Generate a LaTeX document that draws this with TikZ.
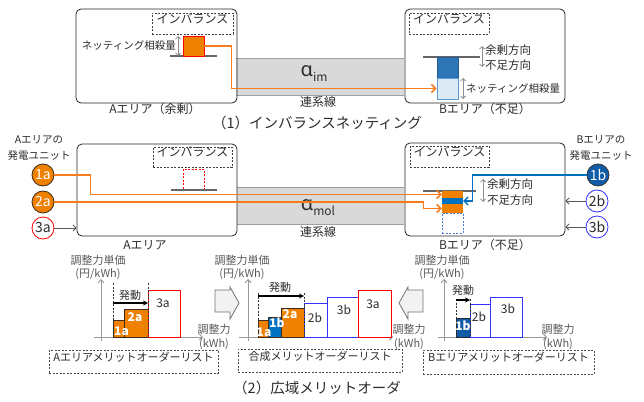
\documentclass[tikz,border=0pt]{standalone}
\usepackage{fontspec}
\setmainfont{Noto Sans CJK JP}
\newfontfamily\grk{Noto Sans}
\usetikzlibrary{arrows.meta,fit}
\newcommand{\fsz}[2]{\fontsize{#1pt}{#2pt}\selectfont}
\definecolor{org}{RGB}{240,128,0}
\definecolor{orgline}{RGB}{246,124,30}
\definecolor{dblue}{RGB}{46,117,182}
\definecolor{mblue}{RGB}{0,112,192}
\definecolor{lblue}{RGB}{221,235,247}
\definecolor{bblue}{RGB}{91,155,213}
\definecolor{nblue}{RGB}{16,92,166}
\definecolor{pblue}{RGB}{50,50,255}
\definecolor{bandc}{RGB}{217,217,217}
\definecolor{bandedge}{RGB}{160,160,160}
\definecolor{txt}{RGB}{45,45,45}
\definecolor{gtxt}{RGB}{90,90,90}
\definecolor{arrfill}{RGB}{242,242,242}
\definecolor{barb}{RGB}{60,45,30}
\begin{document}
\begin{tikzpicture}[x=1pt,y=-1pt,
  every node/.style={text=txt},
  area/.style={draw=black!85, line width=0.8pt, rounded corners=5pt, inner sep=0pt},
  imb/.style={draw=black!75, dash pattern=on 2pt off 1.5pt, line width=0.6pt, inner sep=0pt, font=\fsz{12}{14}},
  baseln/.style={draw=black!60, line width=1.2pt},
  bandst/.style={fill=bandc, draw=none, inner sep=0pt},
  bandln/.style={draw=bandedge, line width=0.8pt},
  oarr/.style={draw=orgline, line width=1.6pt, -{Straight Barb[length=4pt,width=8pt]}},
  barr/.style={draw=mblue, line width=1.4pt, -{Straight Barb[length=4pt,width=8pt]}},
  garr/.style={draw=black!65, line width=0.9pt, -{Straight Barb[length=3pt,width=6pt]}},
  dbl/.style={draw=black!45, line width=0.8pt, {Straight Barb[length=2.5pt,width=5pt]}-{Straight Barb[length=2.5pt,width=5pt]}},
  gen/.style={circle, minimum size=22pt, inner sep=0pt, line width=0.8pt, font=\fsz{14}{14}},
  side/.style={anchor=west, inner sep=0pt, font=\fsz{11.5}{13}},
  obar/.style={fill=org, draw=barb, line width=0.8pt, inner sep=0pt},
  bbar/.style={fill=mblue, draw=barb, line width=0.8pt, inner sep=0pt},
  nbar/.style={fill=nblue, draw=black!85, line width=0.8pt, inner sep=0pt},
  wbbar/.style={fill=white, draw=pblue, line width=1pt, inner sep=0pt},
  wrbar/.style={fill=white, draw=red, line width=1pt, inner sep=0pt},
  axis/.style={draw=black!40, line width=1pt, -{Straight Barb[length=3pt,width=6pt]}},
  vdash/.style={draw=black!80, dash pattern=on 2pt off 1.5pt, line width=0.6pt},
  hatsu/.style={draw=black, line width=1.1pt, -{Stealth[length=5pt,width=5pt]}},
  blk/.style={fill=arrfill, draw=black!55, line width=0.8pt},
  list/.style={draw=black!70, dash pattern=on 2pt off 1.5pt, line width=0.6pt, inner sep=0pt, font=\fsz{11}{13}},
  lbl/.style={font=\fsz{11}{13.5}, align=center, text=gtxt},
  barlbl/.style={font=\bfseries\fsz{12}{12}, text=white, inner sep=0pt},
  barlblg/.style={font=\fsz{12}{12}, text=txt, inner sep=0pt},
  captxt/.style={font=\fsz{14.5}{16}}
]
\useasboundingbox (0,0) rectangle (644,401);
\fill[white] (0,0) rectangle (644,401);

% ================= (1) top =================
\node[bandst, fit={(236,59)(404,95)}] (Ltop) {};
\draw[bandln] (Ltop.north west) -- (Ltop.north east);
\draw[bandln] (Ltop.south west) -- (Ltop.south east);
\node[inner sep=0pt] (atop) at (314,74) {{\grk\fsz{20}{20}α}\raisebox{-5pt}{\fsz{12}{12}im}};
\node[font=\fsz{12}{14}] (ltop) at (318,102) {連系線};

\node[area, fit={(76,9)(237,103)}] (Atop) {};
\node[imb, fit={(152,13)(233,34)}] (Aimb) {インバランス};
\draw[baseln] (170,56) -- (217,56);
\node[fill=org, draw=red, line width=0.8pt, inner sep=0pt, fit={(183,36)(204,56)}] (Anet) {};
\draw[dbl] (178,36) -- (178,56);
\node[anchor=east, font=\fsz{10.5}{12}, inner sep=0pt] (Anetl) at (176,46) {ネッティング相殺量};
\node[font=\fsz{12}{14}] (Atopl) at (155,109) {Aエリア（余剰）};

\node[area, fit={(405,9)(565,103)}] (Btop) {};
\node[imb, fit={(409,13)(489,34)}] (Bimb) {インバランス};
\draw[baseln] (423,57) -- (480,57);
\node[fill=dblue, draw=dblue!80!black, line width=0.6pt, inner sep=0pt, fit={(437,57)(458,78)}] (Bsur) {};
\node[fill=lblue, draw=bblue, line width=0.8pt, inner sep=0pt, fit={(437,78)(458,99)}] (Bnet) {};
\draw[dbl] (482,46) -- (482,67);
\node[side] (Bup) at (485,50) {余剰方向};
\node[side] (Bdn) at (485,65) {不足方向};
\draw[dbl] (463,78) -- (463,99);
\node[anchor=west, font=\fsz{10.5}{12}, inner sep=0pt] (Bnetl) at (466,89) {ネッティング相殺量};
\node[font=\fsz{12}{14}] (Btopl) at (485,109) {Bエリア（不足）};

\draw[oarr] (Anet.east) -- ++(27,0) |- (Bnet.west);
\node[captxt] (cap1) at (317,123) {（1）インバランスネッティング};

% ================= (2) middle =================
\node[bandst, fit={(237,188)(404,224)}] (Lmid) {};
\draw[bandln] (Lmid.north west) -- (Lmid.north east);
\draw[bandln] (Lmid.south west) -- (Lmid.south east);
\node[inner sep=0pt] (amid) at (318,208) {{\grk\fsz{20}{20}α}\raisebox{-5pt}{\fsz{12}{12}mol}};
\node[font=\fsz{12}{14}] (lmid) at (318,232) {連系線};

\node[area, fit={(77,144)(237,236)}] (Amid) {};
\node[imb, fit={(153,147)(232,167)}] (Aimb2) {インバランス};
\node[draw=red, dash pattern=on 2pt off 1.5pt, line width=0.7pt, inner sep=0pt, fit={(183,169)(204,190)}] (Aempty) {};
\draw[baseln] (171,190) -- (217,190);
\node[font=\fsz{12}{14}] (Amidl) at (145,245) {Aエリア};

\node[area, fit={(405,143)(565,236)}] (Bmid) {};
\node[imb, fit={(410,146)(489,167)}] (Bimb2) {インバランス};
\draw[baseln] (423,191) -- (476,191);
\node[fill=org, draw=none, inner sep=0pt, fit={(442,191)(463,198)}] (Bo1) {};
\node[fill=mblue, draw=none, inner sep=0pt, fit={(442,198)(463,204)}] (Bb) {};
\node[fill=org, draw=none, inner sep=0pt, fit={(442,204)(463,213)}] (Bo2) {};
\node[draw=bblue!80!blue, dash pattern=on 2pt off 1.5pt, line width=0.7pt, inner sep=0pt, fit={(442,213)(463,233)}] (Bd) {};
\draw[dbl] (483,179) -- (483,202);
\node[side] (Bup2) at (487,184) {余剰方向};
\node[side] (Bdn2) at (487,200) {不足方向};
\node[font=\fsz{12}{14}] (Bmidl) at (485,245) {Bエリア（不足）};

\node[font=\fsz{10.5}{15.5}, align=center] (Agen) at (39,148) {Aエリアの\\発電ユニット};
\node[gen, fill=org, draw=barb, text=white] (g1a) at (43,175) {1a};
\node[gen, fill=org, draw=barb, text=white] (g2a) at (43,202) {2a};
\node[gen, fill=white, draw=red] (g3a) at (43,228) {3a};

\node[font=\fsz{10.5}{15.5}, align=center] (Bgen) at (601,148) {Bエリアの\\発電ユニット};
\node[gen, fill=nblue, draw=black!80, text=white] (g1b) at (598,175) {1b};
\node[gen, fill=white, draw=pblue] (g2b) at (597,201) {2b};
\node[gen, fill=white, draw=pblue] (g3b) at (597,227) {3b};

\draw[oarr] (g1a.east) -- ++(36,0) |- (Bo1.west);
\draw[oarr] (g2a.east) -- ++(369,0) |- (Bo2.west);
\draw[barr] (g1b.west) -- ++(-114,0) |- (Bb.east);
\draw[garr] (g3a.east) -- (g3a.east -| Amid.west);
\draw[garr] (g2b.west) -- (g2b.west -| Bmid.east);
\draw[garr] (g3b.west) -- (g3b.west -| Bmid.east);

% ================= bottom: A list =================
\node[lbl] (Ay) at (98,267.5) {調整力単価\\(円/kWh)};
\draw[axis] (101,341) -- (101,279);
\draw[axis] (94,337) -- (203,337);
\node[obar, fit={(113,320)(124,337)}] (A1a) {};
\node[obar, fit={(124,309)(148,337)}] (A2a) {};
\node[wrbar, fit={(148,290)(180,337)}] (A3a) {};
\draw[vdash] (113,283) -- (113,337);
\draw[vdash] (148,283) -- (148,337);
\draw[hatsu] (113,303) -- (148,303);
\node[font=\fsz{11}{12}, inner sep=0pt] (Ah) at (130,295) {発動};
\node[barlbl] at (121.5,331) {1a};
\node[barlbl] at (135,317.5) {2a};
\node[barlblg] at (163,303) {3a};
\node[lbl] (Ax) at (214,337) {調整力\\(kWh)};
\node[list, fit={(49,350)(218,373)}] (Alist) {Aエリアメリットオーダーリスト};

% block arrows
\draw[blk] (215,290) -- (230,290) -- (230,287) -- (239,303) -- (230,319) -- (230,312) -- (215,312) -- cycle;
\draw[blk] (423,290) -- (408,290) -- (408,287) -- (399,303) -- (408,319) -- (408,312) -- (423,312) -- cycle;

% ================= bottom: merged list =================
\node[lbl] (Cy) at (242,267.5) {調整力単価\\(円/kWh)};
\draw[axis] (248,341) -- (248,279);
\draw[axis] (239,337) -- (393,337);
\node[obar, fit={(258,320)(268,337)}] (C1a) {};
\node[bbar, fit={(268,317)(281,337)}] (C1b) {};
\node[obar, fit={(281,308)(304,337)}] (C2a) {};
\node[wbbar, fit={(304,303)(327,337)}] (C2b) {};
\node[wbbar, fit={(327,297)(358,337)}] (C3b) {};
\node[wrbar, fit={(358,290)(391,337)}] (C3a) {};
\draw[vdash] (258,293) -- (258,337);
\draw[vdash] (304,293) -- (304,337);
\draw[hatsu] (258,296) -- (304,296);
\node[font=\fsz{11}{12}, inner sep=0pt] (Ch) at (280,287) {発動};
\node[barlbl] at (264,332) {1a};
\node[barlbl] at (277,323) {1b};
\node[barlbl] at (290,314) {2a};
\node[barlblg] at (315,318) {2b};
\node[barlblg] at (344,310) {3b};
\node[barlblg] at (373,304) {3a};
\node[lbl] (Cx) at (409,337) {調整力\\(kWh)};
\node[list, fit={(238,349)(402,372)}] (Clist) {合成メリットオーダーリスト};
\node[captxt] (cap2) at (317,388) {（2）広域メリットオーダ};

% ================= bottom: B list =================
\node[lbl] (By) at (442,267.5) {調整力単価\\(円/kWh)};
\draw[axis] (444,341) -- (444,279);
\draw[axis] (438,337) -- (547,337);
\node[nbar, fit={(456,318)(470,337)}] (B1b) {};
\node[wbbar, fit={(470,304)(490,337)}] (B2b) {};
\node[wbbar, fit={(490,297)(522,337)}] (B3b) {};
\draw[vdash] (456,299) -- (456,337);
\draw[vdash] (470,299) -- (470,337);
\draw[hatsu] (456,300) -- (470,300);
\node[font=\fsz{11}{12}, inner sep=0pt] (Bh) at (463,290) {発動};
\node[barlbl] at (463,325.5) {1b};
\node[barlblg] at (479,317) {2b};
\node[barlblg] at (508,309) {3b};
\node[lbl] (Bx) at (558,337) {調整力\\(kWh)};
\node[list, fit={(423,350)(594,374)}] (Blist) {Bエリアメリットオーダーリスト};
\end{tikzpicture}
\end{document}
